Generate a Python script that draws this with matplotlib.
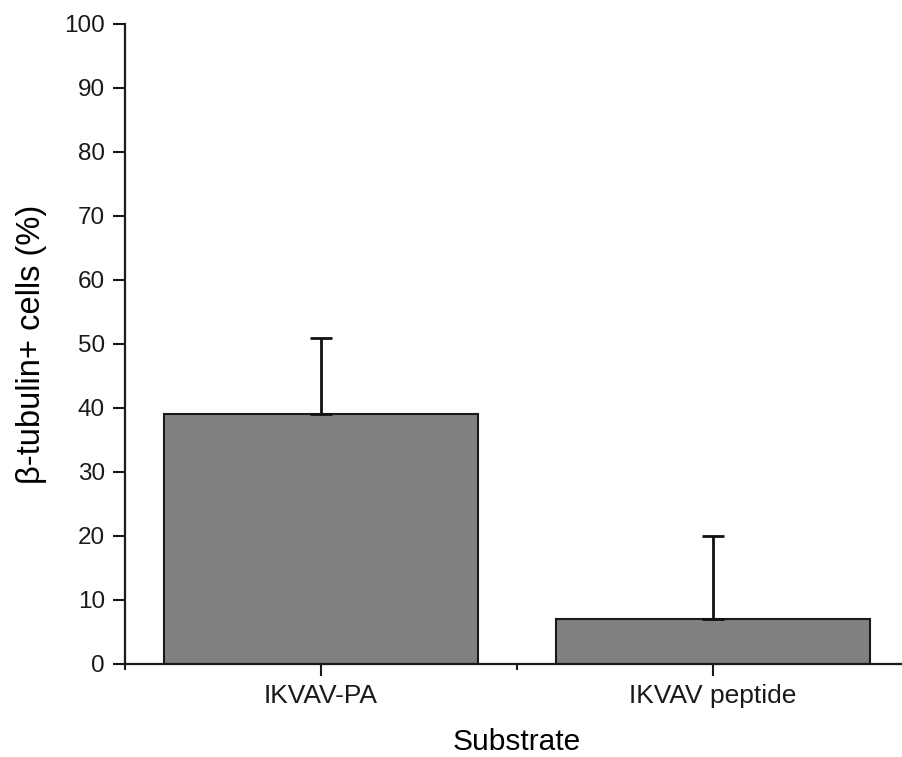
import numpy as np
import matplotlib
matplotlib.use("Agg")
import matplotlib.pyplot as plt
from matplotlib.ticker import MultipleLocator

plt.rcParams['font.family'] = ['Liberation Sans', 'DejaVu Sans']

substrates = ["IKVAV-PA", "IKVAV peptide"]
means = [39, 7]
errors = [12, 13]

fig = plt.figure(figsize=(9.02, 7.57), dpi=100)
ax = fig.add_axes([125 / 902, 1 - 664 / 757, 784 / 902, 640 / 757])

x = np.arange(len(substrates))
ax.bar(x, means, width=0.8, color="#808080", edgecolor="#1a1a1a", linewidth=1.5, zorder=2)
ax.errorbar(x, means, yerr=[np.zeros(len(means)), errors], fmt="none",
            ecolor="#111111", elinewidth=2, capsize=8, capthick=2, zorder=3)

ax.set_xlim(-0.5, 1.5)
ax.set_ylim(0, 100)
ax.set_xticks(x)
ax.set_xticklabels(substrates)
ax.xaxis.set_minor_locator(MultipleLocator(1, offset=0.5))
ax.yaxis.set_major_locator(MultipleLocator(10))

for s in ["top", "right"]:
    ax.spines[s].set_visible(False)
for s in ["left", "bottom"]:
    ax.spines[s].set_linewidth(1.6)
    ax.spines[s].set_color("#1a1a1a")

ax.tick_params(axis="both", which="major", direction="out", length=8.5, width=1.5,
               colors="#1a1a1a", labelsize=17.5, pad=6)
ax.tick_params(axis="x", which="major", labelsize=19, pad=6)
ax.tick_params(axis="x", which="minor", direction="out", length=4.5, width=1.5, colors="#1a1a1a")

ax.set_xlabel("Substrate", fontsize=21.5, labelpad=14)
ax.set_ylabel("β-tubulin+ cells (%)", fontsize=23.5, labelpad=12)

fig.savefig("out.png", dpi=100)
